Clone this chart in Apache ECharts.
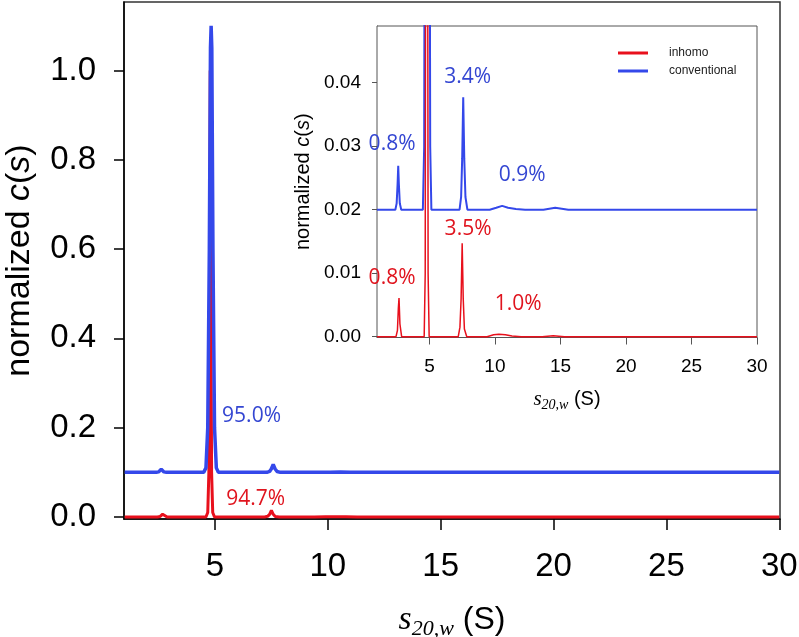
<!DOCTYPE html>
<html>
<head>
<meta charset="utf-8">
<script src="https://cdn.jsdelivr.net/npm/echarts@6/dist/echarts.min.js"></script>
<style>html,body{margin:0;padding:0;background:#fff;}#c{width:799px;height:637px;}</style>
</head>
<body>
<div id="c"></div>
<script>
// ---- data ----
const inhomoS = [1.0, 2.45, 2.56, 2.63, 2.68, 2.75, 2.88, 4.6, 4.68, 4.73, 4.76, 4.79, 4.82, 4.85, 4.9, 4.98,
  7.2, 7.33, 7.42, 7.5, 7.58, 7.67, 7.85, 9.4, 9.9, 10.3, 10.8, 11.3, 12.0, 13.6, 14.45, 15.3, 30.0];
const inhomoC = [0, 0, 0.001, 0.0045, 0.0061, 0.002, 0, 0, 0.01, 0.1, 0.5, 1.0, 0.5, 0.1, 0.01, 0,
  0, 0.0015, 0.006, 0.0147, 0.006, 0.0012, 0, 0, 0.0003, 0.0004, 0.0003, 0.0001, 0, 0, 0.00016, 0, 0];
const conventionalS = [1.0, 2.4, 2.5, 2.57, 2.62, 2.67, 2.74, 2.85, 4.5, 4.6, 4.68, 4.75, 4.8, 4.83, 4.86, 4.91, 4.98, 5.06, 5.15,
  7.3, 7.42, 7.5, 7.58, 7.66, 7.75, 7.9, 9.6, 10.1, 10.55, 11.0, 11.6, 12.3, 13.7, 14.6, 15.6, 30.0];
const conventionalC = [0, 0, 0.001, 0.004, 0.0069, 0.004, 0.001, 0, 0, 0.01, 0.1, 0.5, 0.95, 1.0, 0.95, 0.5, 0.1, 0.01, 0,
  0, 0.002, 0.008, 0.0177, 0.008, 0.002, 0, 0, 0.0003, 0.0006, 0.0003, 0.0001, 0, 0, 0.0003, 0, 0];
const mainOffset = 0.1;   // conventional trace shifted up in the main panel
const insetOffset = 0.02; // conventional trace shifted up in the inset
const seriesNames = ['inhomo', 'conventional'];
const xTicks = [5, 10, 15, 20, 25, 30];
const mainYTicks = [0, 0.2, 0.4, 0.6, 0.8, 1.0];
const insetYTicks = [0, 0.01, 0.02, 0.03, 0.04];
const mainLabelText = ['94.7%', '95.0%'];
const mainLabelS = [6.8, 6.62];
const mainLabelC = [0.04, 0.226];
const insetInhomoText = ['0.8%', '3.5%', '1.0%'];
const insetInhomoS = [2.15, 7.95, 11.77];
const insetInhomoC = [0.0092, 0.0170, 0.0051];
const insetConvText = ['0.8%', '3.4%', '0.9%'];
const insetConvS = [2.15, 7.92, 12.08];
const insetConvC = [0.0303, 0.0409, 0.0255];

const RED = '#e8101c';
const BLUE = '#3448ea';
const TXT_BLUE = '#3446d2';
const TXT_RED = '#e0141e';

const zip = (a, b, off) => a.map((v, i) => [v, b[i] + (off || 0)]);
const zip3 = (a, b, t) => a.map((v, i) => [v, b[i], t[i]]);

const chart = echarts.init(document.getElementById('c'));
const sans = 'Liberation Sans, Arial, sans-serif';
const serif = 'Liberation Serif, Times New Roman, serif';

const xNameText = '{s|s}{sub|20,w}{p| (S)}';
function xRich(fs, sub, lh) {
  return {
    s: {fontFamily: serif, fontStyle: 'italic', fontSize: fs * 1.05, lineHeight: lh, verticalAlign: 'middle', color: '#000'},
    sub: {fontFamily: serif, fontStyle: 'italic', fontSize: sub, lineHeight: lh, verticalAlign: 'bottom', color: '#000'},
    p: {fontFamily: sans, fontSize: fs, lineHeight: lh, verticalAlign: 'middle', color: '#000'}
  };
}
function yRich(fs) {
  return {
    n: {fontFamily: sans, fontSize: fs, color: '#000'},
    i: {fontFamily: sans, fontSize: fs, fontStyle: 'italic', color: '#000'}
  };
}
function labelSeries(name, xi, data, color) {
  return {name: name, type: 'scatter', xAxisIndex: xi, yAxisIndex: xi, symbolSize: 0, z: 12,
    itemStyle: {opacity: 1}, silent: true, data: data,
    label: {show: true, position: 'inside', formatter: p => p.data[2], fontFamily: 'Open Sans', fontSize: 21, color: color, opacity: 1}};
}

const option = {
  animation: false,
  backgroundColor: '#fff',
  grid: [
    {left: 124, top: 2, width: 656, height: 517, show: true, borderColor: '#333', borderWidth: 1.5,
      backgroundColor: 'transparent', containLabel: false, outerBoundsMode: 'none'},
    {left: 377, top: 26, width: 380, height: 311.5, show: true, borderColor: '#555', borderWidth: 1,
      backgroundColor: '#fff', z: 5, containLabel: false, outerBoundsMode: 'none'}
  ],
  legend: {
    data: seriesNames,
    orient: 'vertical',
    left: 618, top: 46,
    icon: 'rect', itemWidth: 30, itemHeight: 3, itemGap: 4,
    padding: 0,
    textStyle: {fontFamily: sans, fontSize: 12, color: '#222', padding: [0, 0, 0, 16], lineHeight: 14},
    z: 20
  },
  xAxis: [
    {
      type: 'value', gridIndex: 0, min: 0.97, max: 30.03,
      name: xNameText, nameLocation: 'middle', nameGap: 81,
      nameTextStyle: {rich: xRich(32, 22, 40)},
      axisLine: {show: true, onZero: false, lineStyle: {color: '#000', width: 1.5}},
      axisTick: {show: true, length: 11, customValues: xTicks, lineStyle: {color: '#000', width: 1.5}},
      axisLabel: {customValues: xTicks, margin: 31, fontFamily: sans, fontSize: 33, color: '#000'},
      splitLine: {show: false}
    },
    {
      type: 'value', gridIndex: 1, min: 1.0, max: 30.0,
      name: xNameText, nameLocation: 'middle', nameGap: 49,
      nameTextStyle: {rich: xRich(20, 14, 26)},
      axisLine: {show: true, onZero: false, lineStyle: {color: '#555', width: 1}},
      axisTick: {show: true, length: 7, customValues: xTicks, lineStyle: {color: '#555', width: 1}},
      axisLabel: {customValues: xTicks, margin: 20, fontFamily: sans, fontSize: 19, color: '#000'},
      splitLine: {show: false}
    }
  ],
  yAxis: [
    {
      type: 'value', gridIndex: 0, min: -0.0045, max: 1.1534,
      name: '{n|normalized }{i|c}{n|(}{i|s}{n|)}', nameLocation: 'middle', nameGap: 87,
      nameTextStyle: {rich: yRich(34)},
      axisLine: {show: true, onZero: false, lineStyle: {color: '#000', width: 1.5}},
      axisTick: {show: true, length: 10, customValues: mainYTicks, lineStyle: {color: '#000', width: 1.5}},
      axisLabel: {customValues: mainYTicks, margin: 28, fontFamily: sans, fontSize: 33, color: '#000',
        formatter: v => v.toFixed(1)},
      splitLine: {show: false}
    },
    {
      type: 'value', gridIndex: 1, min: -0.00013, max: 0.04893,
      name: '{n|normalized }{i|c}{n|(}{i|s}{n|)}', nameLocation: 'middle', nameGap: 64,
      nameTextStyle: {rich: yRich(20)},
      axisLine: {show: true, onZero: false, lineStyle: {color: '#555', width: 1}},
      axisTick: {show: true, length: 5, customValues: insetYTicks, lineStyle: {color: '#555', width: 1}},
      axisLabel: {customValues: insetYTicks, margin: 16, fontFamily: sans, fontSize: 19, color: '#000',
        formatter: v => v.toFixed(2)},
      splitLine: {show: false}
    }
  ],
  series: [
    {name: seriesNames[0], type: 'line', xAxisIndex: 0, yAxisIndex: 0, data: zip(inhomoS, inhomoC, 0),
      showSymbol: false, symbol: 'none', color: RED, lineStyle: {color: RED, width: 3}, z: 2},
    {name: seriesNames[1], type: 'line', xAxisIndex: 0, yAxisIndex: 0, data: zip(conventionalS, conventionalC, mainOffset),
      showSymbol: false, symbol: 'none', color: BLUE, lineStyle: {color: BLUE, width: 3.5}, z: 3},
    {name: seriesNames[1], type: 'line', xAxisIndex: 1, yAxisIndex: 1, data: zip(conventionalS, conventionalC, insetOffset),
      showSymbol: false, symbol: 'none', color: BLUE, lineStyle: {color: BLUE, width: 2}, z: 10},
    {name: seriesNames[0], type: 'line', xAxisIndex: 1, yAxisIndex: 1, data: zip(inhomoS, inhomoC, 0),
      showSymbol: false, symbol: 'none', color: RED, lineStyle: {color: RED, width: 1.5}, z: 11},
    labelSeries('main labels red', 0, zip3([mainLabelS[0]], [mainLabelC[0]], [mainLabelText[0]]), TXT_RED),
    labelSeries('main labels blue', 0, zip3([mainLabelS[1]], [mainLabelC[1]], [mainLabelText[1]]), TXT_BLUE),
    labelSeries('inset labels red', 1, zip3(insetInhomoS, insetInhomoC, insetInhomoText), TXT_RED),
    labelSeries('inset labels blue', 1, zip3(insetConvS, insetConvC, insetConvText), TXT_BLUE)
  ]
};
chart.setOption(option);
</script>
</body>
</html>
